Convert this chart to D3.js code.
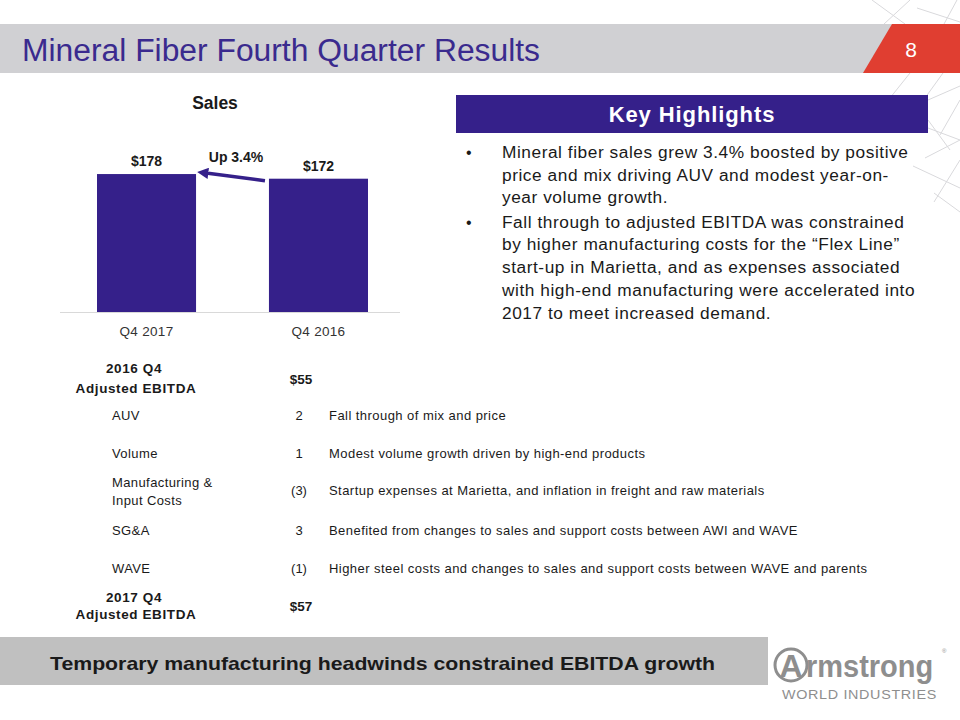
<!DOCTYPE html>
<html><head><meta charset="utf-8">
<script src="https://cdn.jsdelivr.net/npm/d3@7/dist/d3.min.js"></script>
<style>
html,body{margin:0;padding:0;background:#fff;}
svg{display:block;font-family:Arial,"Liberation Sans",Helvetica,sans-serif;}
</style></head>
<body>
<svg id="c" width="960" height="720"></svg>
<script>
// ---- data ----
const pageTitle = "Mineral Fiber Fourth Quarter Results";
const pageNumber = "8";
const chartTitle = "Sales";
const categories = ["Q4 2017", "Q4 2016"];
const salesValues = [178, 172];
const changeLabel = "Up 3.4%";
const highlightsTitle = "Key Highlights";
const bullets = [
  ["Mineral fiber sales grew 3.4% boosted by positive",
   "price and mix driving AUV and modest year-on-",
   "year volume growth."],
  ["Fall through to adjusted EBITDA was constrained",
   "by higher manufacturing costs for the \u201cFlex Line\u201d",
   "start-up in Marietta, and as expenses associated",
   "with high-end manufacturing were accelerated into",
   "2017 to meet increased demand."]
];
const bridgeStart = {label: ["2016 Q4", "Adjusted EBITDA"], value: 55};
const bridgeEnd = {label: ["2017 Q4", "Adjusted EBITDA"], value: 57};
const bridgeLabels = [["AUV"], ["Volume"], ["Manufacturing &", "Input Costs"], ["SG&A"], ["WAVE"]];
const bridgeValues = [2, 1, -3, 3, -1];
const bridgeNotes = [
  "Fall through of mix and price",
  "Modest volume growth driven by high-end products",
  "Startup expenses at Marietta, and inflation in freight and raw materials",
  "Benefited from changes to sales and support costs between AWI and WAVE",
  "Higher steel costs and changes to sales and support costs between WAVE and parents"
];
const footerText = "Temporary manufacturing headwinds constrained EBITDA growth";

// ---- drawing ----
const svg = d3.select("#c");
const purple = "#35208a";
const txt = "#1a1a1a";

// decorative lattice lines (right edge)
const deco = [
  [910,0,884,24],[957,0,944,24],[917,8,960,22],[872,0,905,24],
  [910,73,890,98],[943,73,925,98],[928,100,960,86],[928,128,960,140],
  [960,140,925,158],[913,166,960,188],[960,160,934,202],[934,193,960,212],
  [960,100,940,135],[928,120,950,150]
];
svg.append("g").selectAll("line").data(deco).join("line")
  .attr("x1",d=>d[0]).attr("y1",d=>d[1]).attr("x2",d=>d[2]).attr("y2",d=>d[3])
  .attr("stroke","#d9d9dc").attr("stroke-width",1);

// header band
svg.append("rect").attr("x",0).attr("y",24).attr("width",960).attr("height",49).attr("fill","#d0d0d3");
svg.append("polygon").attr("points","892,24 960,24 960,73 863,73").attr("fill","#e03e31");
svg.append("text").attr("x",22).attr("y",61).attr("font-size",31).attr("fill","#3a2a8e")
  .attr("textLength",518).attr("lengthAdjust","spacingAndGlyphs").text(pageTitle);
svg.append("text").attr("x",911).attr("y",57).attr("font-size",21).attr("fill","#fff")
  .attr("text-anchor","middle").text(pageNumber);

// ---- bar chart ----
const x = d3.scaleBand().domain(categories).range([97, 368]).paddingInner(0.424).paddingOuter(0);
const y = d3.scaleLinear().domain([0, 200]).range([312, 157]);
const gChart = svg.append("g");
gChart.append("text").attr("x",215).attr("y",109).attr("text-anchor","middle")
  .attr("font-size",17.5).attr("font-weight","bold").attr("fill",txt).text(chartTitle);
gChart.selectAll("rect.bar").data(categories).join("rect").attr("class","bar")
  .attr("x",d=>x(d)).attr("width",x.bandwidth())
  .attr("y",(d,i)=>y(salesValues[i])).attr("height",(d,i)=>y(0)-y(salesValues[i]))
  .attr("fill",purple);
gChart.selectAll("text.val").data(categories).join("text").attr("class","val")
  .attr("x",d=>x(d)+x.bandwidth()/2).attr("y",(d,i)=>y(salesValues[i])-8)
  .attr("text-anchor","middle").attr("font-size",14).attr("font-weight","bold").attr("fill",txt)
  .text((d,i)=>"$"+salesValues[i]);
const xAxis = gChart.append("g").attr("transform","translate(0,312)")
  .call(d3.axisBottom(x).tickSize(0).tickPadding(14));
xAxis.select(".domain").attr("stroke","#d9d9d9").attr("d","M60,0.5H400");
xAxis.selectAll("text").attr("font-size",13.5).attr("letter-spacing",0.3).attr("fill","#333")
  .attr("font-family","Arial,'Liberation Sans',sans-serif");

// arrow
svg.append("defs").append("marker").attr("id","ah").attr("viewBox","0 0 10 10")
  .attr("refX",2).attr("refY",5).attr("markerWidth",3.2).attr("markerHeight",3.2).attr("orient","auto")
  .append("path").attr("d","M0,0L10,5L0,10z").attr("fill",purple);
const ax0 = x(categories[1]) - 4, ay0 = y(salesValues[1]) + 2;
const ax1 = x(categories[0]) + x.bandwidth() + 10, ay1 = y(salesValues[0]) - 1;
svg.append("line").attr("x1",ax0).attr("y1",ay0).attr("x2",ax1).attr("y2",ay1)
  .attr("stroke",purple).attr("stroke-width",3.5).attr("marker-end","url(#ah)");
svg.append("text").attr("x",236).attr("y",162).attr("text-anchor","middle")
  .attr("font-size",14).attr("font-weight","bold").attr("fill",txt).text(changeLabel);

// ---- key highlights ----
svg.append("rect").attr("x",456).attr("y",95).attr("width",472).attr("height",38).attr("fill",purple);
svg.append("text").attr("x",692).attr("y",122).attr("text-anchor","middle")
  .attr("font-size",22).attr("letter-spacing",0.9).attr("font-weight","bold").attr("fill","#fff").text(highlightsTitle);
const lineY = [[158,181,203],[228,250,273,296,319]];
bullets.forEach((b,bi)=>{
  svg.append("text").attr("x",466).attr("y",lineY[bi][0]).attr("font-size",16).attr("fill",txt).text("\u2022");
  b.forEach((l,li)=>{
    svg.append("text").attr("x",502).attr("y",lineY[bi][li]).attr("font-size",17.3)
      .attr("letter-spacing",0.55).attr("fill",txt).text(l);
  });
});

// ---- EBITDA bridge table ----
const fmt = v => v < 0 ? "(" + Math.abs(v) + ")" : String(v);
const tb = svg.append("g").attr("fill",txt);
function boldBlock(lbl, val, y1, y2, yv){
  tb.append("text").attr("x",134).attr("y",y1).attr("text-anchor","middle").attr("font-size",13.5).attr("letter-spacing",0.6).attr("font-weight","bold").text(lbl[0]);
  tb.append("text").attr("x",136).attr("y",y2).attr("text-anchor","middle").attr("font-size",13.5).attr("letter-spacing",0.6).attr("font-weight","bold").text(lbl[1]);
  tb.append("text").attr("x",301).attr("y",yv).attr("text-anchor","middle").attr("font-size",13.5).attr("font-weight","bold").text("$"+val);
}
boldBlock(bridgeStart.label, bridgeStart.value, 373, 393, 384);
const rowY = [420, 458, 495, 535, 573];
bridgeLabels.forEach((lbl,i)=>{
  if(lbl.length===1){
    tb.append("text").attr("x",112).attr("y",rowY[i]).attr("font-size",13).attr("letter-spacing",0.4).text(lbl[0]);
  } else {
    tb.append("text").attr("x",112).attr("y",rowY[i]-8).attr("font-size",13).attr("letter-spacing",0.4).text(lbl[0]);
    tb.append("text").attr("x",112).attr("y",rowY[i]+10).attr("font-size",13).attr("letter-spacing",0.4).text(lbl[1]);
  }
  tb.append("text").attr("x",299).attr("y",rowY[i]).attr("text-anchor","middle").attr("font-size",13).text(fmt(bridgeValues[i]));
  tb.append("text").attr("x",329).attr("y",rowY[i]).attr("font-size",13).attr("letter-spacing",0.45).text(bridgeNotes[i]);
});
boldBlock(bridgeEnd.label, bridgeEnd.value, 602, 619, 611);

// ---- footer ----
svg.append("rect").attr("x",0).attr("y",637).attr("width",768).attr("height",48).attr("fill","#c0c0c0");
svg.append("text").attr("x",50).attr("y",670).attr("font-size",19)
  .attr("textLength",665).attr("lengthAdjust","spacingAndGlyphs")
  .attr("font-weight","bold").attr("fill",txt).text(footerText);

// logo
const logo = svg.append("g").attr("fill","#8e8e8e");
logo.append("circle").attr("cx",791).attr("cy",665).attr("r",16).attr("fill","none").attr("stroke","#8e8e8e").attr("stroke-width",3);
logo.append("text").attr("x",791).attr("y",677).attr("text-anchor","middle").attr("font-size",32).attr("font-weight","bold").text("A");
logo.append("text").attr("transform","translate(806,677) scale(1,1.1)").attr("font-size",29)
  .attr("font-weight","bold").text("rmstrong");
logo.append("text").attr("x",942).attr("y",653).attr("font-size",6).text("\u00ae");
logo.append("text").attr("x",782).attr("y",699).attr("font-size",13).attr("letter-spacing",0.6)
  .attr("textLength",155).attr("lengthAdjust","spacingAndGlyphs").text("WORLD INDUSTRIES");
</script>
</body></html>
